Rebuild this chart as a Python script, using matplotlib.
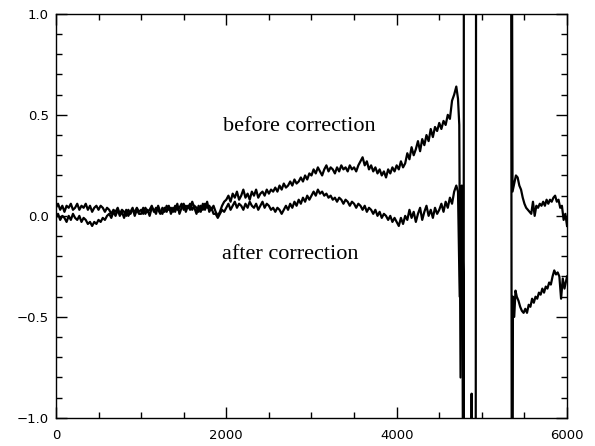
import numpy as np
import matplotlib
matplotlib.use('Agg')
import matplotlib.pyplot as plt
from matplotlib.ticker import MultipleLocator

# main part of both curves, sampled every 25 units from 0 to 4700
x_main = np.arange(0, 4725, 25)

before_main = [
    0.04, 0.06, 0.03, 0.05, 0.02, 0.05, 0.04, 0.06, 0.03, 0.04, 0.06, 0.03, 0.05, 0.04, 0.06, 0.03, 0.05, 0.02, 0.04, 0.05,
    0.03, 0.05, 0.04, 0.02, 0.04, 0.03, 0.01, 0.03, 0.02, 0.04, 0.01, 0.03, 0.02, 0.00, 0.03, 0.01, 0.03, 0.02, 0.04, 0.02,
    0.03, 0.01, 0.04, 0.02, 0.03, 0.05, 0.02, 0.04, 0.03, 0.01, 0.04, 0.02, 0.05, 0.03, 0.04, 0.02, 0.05, 0.03, 0.04, 0.06,
    0.03, 0.05, 0.04, 0.06, 0.03, 0.05, 0.04, 0.02, 0.05, 0.03, 0.06, 0.04, 0.05, 0.03, 0.05, 0.02, 0.00, 0.02, 0.05, 0.07,
    0.08, 0.10, 0.07, 0.11, 0.09, 0.12, 0.08, 0.10, 0.13, 0.09, 0.11, 0.08, 0.12, 0.10, 0.13, 0.09, 0.11, 0.12, 0.10, 0.13,
    0.11, 0.13, 0.12, 0.14, 0.12, 0.15, 0.13, 0.16, 0.14, 0.15, 0.17, 0.15, 0.18, 0.16, 0.17, 0.19, 0.17, 0.20, 0.18, 0.21,
    0.20, 0.23, 0.21, 0.24, 0.22, 0.20, 0.23, 0.25, 0.22, 0.24, 0.23, 0.21, 0.24, 0.22, 0.25, 0.23, 0.24, 0.22, 0.25, 0.23,
    0.24, 0.22, 0.25, 0.27, 0.29, 0.25, 0.27, 0.23, 0.25, 0.22, 0.24, 0.21, 0.23, 0.20, 0.22, 0.19, 0.23, 0.21, 0.24, 0.22,
    0.25, 0.23, 0.27, 0.24, 0.26, 0.31, 0.28, 0.34, 0.30, 0.33, 0.37, 0.32, 0.38, 0.35, 0.40, 0.37, 0.43, 0.39, 0.44, 0.42,
    0.46, 0.43, 0.47, 0.45, 0.50, 0.48, 0.57, 0.60, 0.64,
]

after_main = [
    -0.01, 0.01, -0.02, 0.00, -0.01, -0.03, 0.00, -0.02, 0.01, -0.01, -0.02, 0.00, -0.03, -0.01, -0.02, -0.04, -0.03, -0.05, -0.03, -0.04,
    -0.02, -0.03, -0.01, -0.02, 0.00, 0.01, -0.01, 0.02, 0.00, 0.03, 0.00, 0.02, -0.01, 0.03, 0.00, 0.02, 0.04, 0.00, 0.03, 0.01,
    0.01, 0.04, 0.01, 0.03, 0.00, 0.04, 0.03, 0.01, 0.05, 0.02, 0.01, 0.04, 0.02, 0.05, 0.01, 0.04, 0.02, 0.06, 0.01, 0.04,
    0.06, 0.02, 0.05, 0.03, 0.07, 0.04, 0.01, 0.05, 0.02, 0.06, 0.03, 0.07, 0.02, 0.04, 0.01, 0.01, -0.01, 0.01, 0.03, 0.02,
    0.04, 0.06, 0.03, 0.05, 0.07, 0.04, 0.06, 0.05, 0.03, 0.06, 0.04, 0.07, 0.05, 0.04, 0.06, 0.03, 0.05, 0.07, 0.04, 0.06,
    0.05, 0.03, 0.04, 0.02, 0.04, 0.03, 0.01, 0.03, 0.05, 0.03, 0.06, 0.04, 0.07, 0.05, 0.08, 0.06, 0.09, 0.07, 0.10, 0.08,
    0.10, 0.12, 0.10, 0.13, 0.11, 0.12, 0.10, 0.11, 0.09, 0.10, 0.08, 0.09, 0.07, 0.09, 0.08, 0.06, 0.08, 0.07, 0.05, 0.07,
    0.06, 0.04, 0.06, 0.05, 0.03, 0.05, 0.02, 0.04, 0.03, 0.01, 0.03, 0.00, 0.02, -0.01, 0.01, 0.00, -0.02, 0.00, -0.03, -0.01,
    -0.03, -0.05, -0.01, -0.04, 0.00, -0.02, 0.03, -0.01, 0.02, -0.03, 0.01, 0.04, -0.02, 0.02, 0.05, 0.00, 0.03, -0.01, 0.04, 0.01,
    0.03, 0.06, 0.02, 0.07, 0.04, 0.09, 0.06, 0.12, 0.15,
]

# spikes / gap region and the tail after it
x_before_tail = [4720, 4735, 4750, 4765, 4780, 4785, 4790, 5340, 5355,
                 5365, 5380, 5395, 5410, 5430, 5450, 5470, 5490, 5510, 5530,
                 5550, 5570, 5590, 5610, 5630, 5650, 5670, 5690, 5710, 5730,
                 5750, 5770, 5790, 5810, 5830, 5850, 5870, 5890, 5910, 5930,
                 5950, 5970, 6000]
before_tail = [0.58, 0.45, -0.80, 0.15, -0.30, -3.0, 3.0, 3.0, -3.0,
               -0.40, -0.50, -0.37, -0.40, -0.42, -0.45, -0.47, -0.48, -0.46, -0.48,
               -0.44, -0.45, -0.41, -0.43, -0.40, -0.41, -0.38, -0.39, -0.36, -0.38,
               -0.35, -0.36, -0.33, -0.34, -0.30, -0.27, -0.29, -0.28, -0.30, -0.41,
               -0.31, -0.36, -0.30]

x_after_tail = [4720, 4740, 4760, 4775, 4790, 4870, 4880, 4890, 4925, 4935,
                5345, 5360, 5380, 5400, 5420, 5440, 5460, 5480, 5500, 5520,
                5540, 5560, 5580, 5600, 5620, 5640, 5660, 5680, 5700, 5720,
                5740, 5760, 5780, 5800, 5820, 5840, 5860, 5880, 5900, 5920,
                5940, 5960, 5980, 6000]
after_tail = [0.12, -0.40, 0.05, -0.80, -3.0, -3.0, -0.88, -3.0, -3.0, 3.0,
              3.0, 0.12, 0.16, 0.20, 0.19, 0.15, 0.13, 0.09, 0.06, 0.04,
              0.03, 0.02, 0.01, 0.07, 0.00, 0.05, 0.04, 0.06, 0.05, 0.07,
              0.05, 0.08, 0.06, 0.08, 0.07, 0.09, 0.10, 0.07, 0.08, 0.04,
              0.05, -0.02, 0.01, -0.05]

x_before = np.concatenate([x_main, x_before_tail])
y_before = np.concatenate([before_main, before_tail])
x_after = np.concatenate([x_main, x_after_tail])
y_after = np.concatenate([after_main, after_tail])

fig = plt.figure(figsize=(5.95, 4.46), dpi=100)
ax = fig.add_axes([0.094, 0.063, 0.859, 0.906])

ax.plot(x_before, y_before, color='black', lw=1.6)
ax.plot(x_after, y_after, color='black', lw=1.6)

ax.set_xlim(0, 6000)
ax.set_ylim(-1.0, 1.0)
ax.xaxis.set_major_locator(MultipleLocator(2000))
ax.xaxis.set_minor_locator(MultipleLocator(500))
ax.yaxis.set_major_locator(MultipleLocator(0.5))
ax.yaxis.set_minor_locator(MultipleLocator(0.1))
ax.tick_params(which='both', direction='in', top=True, right=True,
               labelsize=9.5, width=1, pad=5)
ax.tick_params(axis='x', which='major', pad=8)
ax.tick_params(which='major', length=8)
ax.tick_params(which='minor', length=4)
ax.yaxis.set_major_formatter(plt.FuncFormatter(lambda v, p: f'{v:.1f}'.replace('-', '\u2212')))
for s in ax.spines.values():
    s.set_linewidth(1)

ax.text(2860, 0.44, 'before correction', family='Liberation Serif',
        fontsize=16, ha='center', va='center')
ax.text(2750, -0.19, 'after correction', family='Liberation Serif',
        fontsize=16, ha='center', va='center')

fig.savefig('out.png', dpi=100)
